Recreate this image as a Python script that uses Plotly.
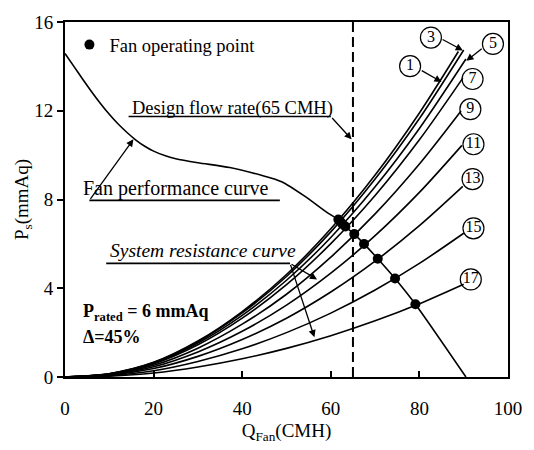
import plotly.graph_objects as go

# ---------------- data ----------------
fan_q = [0, 2, 4, 6, 8, 10, 12, 14, 16, 18, 20, 22.5, 25, 30, 37.2, 44.5, 48.9, 54.1, 59.2, 62.0, 63.3, 65.3, 67.5, 70.6, 74.5, 79.1, 90.5]
fan_p = [14.58, 14.0, 13.42, 12.86, 12.33, 11.84, 11.40, 11.02, 10.68, 10.40, 10.18, 9.98, 9.84, 9.66, 9.44, 9.08, 8.80, 8.15, 7.41, 7.05, 6.78, 6.44, 6.0, 5.33, 4.44, 3.28, 0.0]

op_q = [61.7, 62.1, 62.6, 63.3, 65.3, 67.5, 70.6, 74.5, 79.1]
op_p = [7.10, 7.02, 6.90, 6.78, 6.44, 6.00, 5.33, 4.44, 3.28]

q_grid = [0, 10, 20, 30, 40, 50, 60, 70, 80]
curve_labels = ["1", "3", "5", "7", "9", "11", "13", "15", "17"]
curve_end_q = [88.8, 90.0, 90.5, 89.8, 89.4, 89.6, 89.8, 90.0, 90.0]
c1 = [0, 0.15, 0.66, 1.62, 2.95, 4.62, 6.68, 9.10, 11.90, 14.67]
c3 = [0, 0.15, 0.65, 1.59, 2.89, 4.53, 6.54, 8.92, 11.65, 14.74]
c5 = [0, 0.14, 0.62, 1.53, 2.78, 4.36, 6.29, 8.57, 11.20, 14.33]
c7 = [0, 0.13, 0.59, 1.45, 2.65, 4.16, 6.01, 8.18, 10.69, 13.47]
c9 = [0, 0.12, 0.53, 1.30, 2.38, 3.73, 5.40, 7.35, 9.60, 11.99]
c11 = [0, 0.10, 0.46, 1.13, 2.06, 3.24, 4.68, 6.37, 8.32, 10.44]
c13 = [0, 0.08, 0.38, 0.93, 1.69, 2.65, 3.83, 5.22, 6.82, 8.59]
c15 = [0, 0.06, 0.28, 0.70, 1.27, 2.00, 2.88, 3.92, 5.12, 6.48]
c17 = [0, 0.04, 0.18, 0.45, 0.82, 1.29, 1.86, 2.53, 3.30, 4.18]
system_curves = [c1, c3, c5, c7, c9, c11, c13, c15, c17]

# label circle positions (data coords)
label_q = [77.9, 82.6, 96.6, 92.0, 91.5, 92.2, 92.0, 92.2, 91.6]
label_p = [14.01, 15.30, 15.01, 13.43, 12.07, 10.49, 8.92, 6.70, 4.40]

design_q = 65
x_ticks = [0, 20, 40, 60, 80, 100]
y_ticks = [0, 4, 8, 12, 16]

FONT = "Liberation Serif, Times New Roman, serif"
BLK = "#000000"

fig = go.Figure()

for curve, end_q in zip(system_curves, curve_end_q):
    fig.add_trace(go.Scatter(x=q_grid + [end_q], y=curve, mode="lines",
                             line=dict(color=BLK, width=1.6, shape="spline", smoothing=0.8),
                             showlegend=False, hoverinfo="skip"))

fig.add_trace(go.Scatter(x=fan_q, y=fan_p, mode="lines",
                         line=dict(color=BLK, width=1.6, shape="spline", smoothing=0.7),
                         showlegend=False, hoverinfo="skip"))

fig.add_trace(go.Scatter(x=[design_q, design_q], y=[0, 16], mode="lines",
                         line=dict(color=BLK, width=2, dash="10px,5px"),
                         showlegend=False, hoverinfo="skip"))

fig.add_trace(go.Scatter(x=op_q, y=op_p, mode="markers", name="Fan operating point",
                         marker=dict(color=BLK, size=10), showlegend=True))

fig.add_trace(go.Scatter(x=label_q, y=label_p, mode="markers+text", text=curve_labels,
                         textposition="middle center",
                         textfont=dict(family=FONT, size=16, color=BLK),
                         marker=dict(symbol="circle-open", size=21, color=BLK, line=dict(width=1.2)),
                         showlegend=False, cliponaxis=False, hoverinfo="skip"))

annotations = []
shapes = []

def arrow(x0, y0, x1, y1):
    annotations.append(dict(x=x1, y=y1, ax=x0, ay=y0, xref="x", yref="y", axref="x", ayref="y",
                            text="", showarrow=True, arrowhead=2, arrowsize=1.1, arrowwidth=1.3,
                            arrowcolor=BLK))

def seg(x0, y0, x1, y1):
    shapes.append(dict(type="line", x0=x0, y0=y0, x1=x1, y1=y1, xref="x", yref="y",
                       line=dict(color=BLK, width=1.6)))

def label(x, y, txt, size=18.5, anchor="left"):
    annotations.append(dict(x=x, y=y, xref="x", yref="y", text=txt, showarrow=False,
                            xanchor=anchor, yanchor="middle",
                            font=dict(family=FONT, size=size, color=BLK)))

# Design flow rate
label(14.6, 12.08, "Design flow rate(65 CMH)")
seg(14.35, 11.74, 60.0, 11.74)
arrow(60.0, 11.74, 64.7, 10.71)

# Fan performance curve
label(3.5, 8.48, "Fan performance curve", size=20)
seg(5.5, 7.96, 48.5, 7.96)
arrow(5.5, 7.96, 15.45, 10.71)

# System resistance curve
label(9.7, 5.72, "<i>System resistance curve</i>", size=19.5)
seg(9.3, 5.12, 50.8, 5.12)
arrow(50.8, 5.12, 56.9, 4.40)
arrow(50.8, 5.12, 56.3, 1.79)

# rated pressure text
label(3.6, 2.90, "<b>P<sub>rated</sub> = 6 mmAq</b>", size=18)
label(3.6, 1.80, "<b>Δ=45%</b>", size=18)

# arrows from circled labels 1, 3, 5
arrow(80.2, 13.85, 85.0, 13.30)
arrow(84.9, 15.25, 89.8, 14.72)
arrow(94.4, 14.85, 90.6, 14.25)

fig.update_layout(
    width=534, height=450,
    margin=dict(l=65, r=17, t=17, b=61),
    paper_bgcolor="white", plot_bgcolor="white",
    font=dict(family=FONT, color=BLK, size=17),
    showlegend=True,
    legend=dict(x=0.01, y=0.935, xanchor="left", yanchor="middle",
                bgcolor="rgba(0,0,0,0)", font=dict(family=FONT, size=18.5, color=BLK),
                itemwidth=30, tracegroupgap=0),
    annotations=annotations, shapes=shapes,
)

fig.update_xaxes(range=[0, 100], tickvals=x_ticks, showgrid=False, zeroline=False,
                 showline=True, linecolor=BLK, linewidth=2, mirror=True,
                 ticks="inside", ticklen=6, tickwidth=1.5, tickcolor=BLK,
                 tickfont=dict(family=FONT, size=19, color=BLK), ticklabelstandoff=13,
                 title=dict(text="Q<sub>Fan</sub>(CMH)", font=dict(family=FONT, size=19, color=BLK),
                            standoff=6))
fig.update_yaxes(range=[0, 16], tickvals=y_ticks, showgrid=False, zeroline=False,
                 showline=True, linecolor=BLK, linewidth=2, mirror=True,
                 ticks="outside", ticklen=6, tickwidth=1.5, tickcolor=BLK,
                 tickfont=dict(family=FONT, size=19, color=BLK),
                 title=dict(text="P<sub>s</sub>(mmAq)", font=dict(family=FONT, size=19, color=BLK),
                            standoff=1))

fig.write_html("out.html")
